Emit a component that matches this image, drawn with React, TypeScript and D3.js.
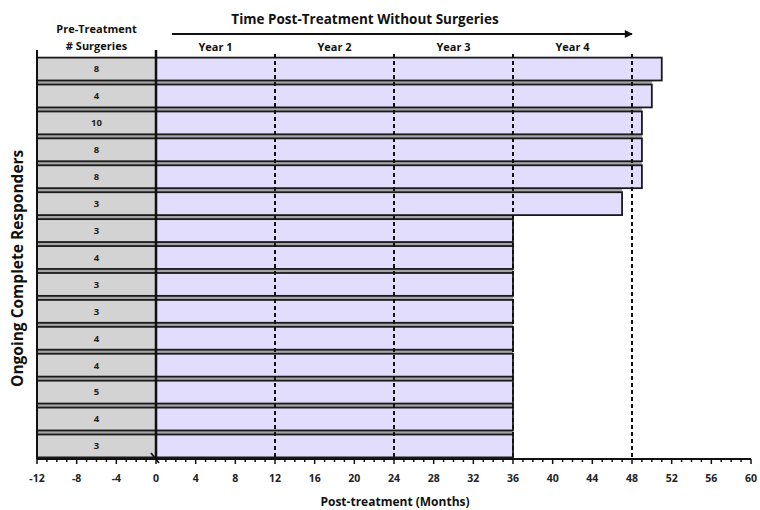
import React, { useEffect, useRef } from "react";
import * as d3 from "d3";

// pre-treatment surgeries per patient (top to bottom)
const surgeries = [8, 4, 10, 8, 8, 3, 3, 4, 3, 3, 4, 4, 5, 4, 3];
// months post-treatment without surgery
const months = [51, 50, 49, 49, 49, 47, 36, 36, 36, 36, 36, 36, 36, 36, 36];
const yearLines = [12, 24, 36, 48];
const yearLabels = ["Year 1", "Year 2", "Year 3", "Year 4"];
const xTicks = [-12, -8, -4, 0, 4, 8, 12, 16, 20, 24, 28, 32, 36, 40, 44, 48, 52, 56, 60];

const W = 760, H = 510;
const FONT = "'Open Sans', 'DejaVu Sans', sans-serif";

export default function App() {
  const ref = useRef<SVGSVGElement>(null);

  useEffect(() => {
    const svg = d3.select(ref.current);
    svg.selectAll("*").remove();

    const x = d3.scaleLinear().domain([-12, 60]).range([37, 751]);
    const y = d3
      .scaleBand<number>()
      .domain(d3.range(surgeries.length))
      .range([56, 459])
      .paddingInner(0.15)
      .paddingOuter(0.06);
    const axisY = 459;

    // gray stripes between neighbouring bars
    const gaps = svg.append("g");
    for (let i = 0; i < months.length - 1; i++) {
      const top = (y(i) as number) + y.bandwidth();
      const bot = y(i + 1) as number;
      gaps
        .append("rect")
        .attr("x", x(-12))
        .attr("y", top)
        .attr("width", x(Math.min(months[i], months[i + 1])) - x(-12))
        .attr("height", bot - top)
        .attr("fill", "#a5a5a5");
    }

    const rows = svg
      .append("g")
      .selectAll("g.row")
      .data(surgeries.map((s, i) => ({ s, m: months[i], i })))
      .enter()
      .append("g")
      .attr("class", "row");

    rows
      .append("rect")
      .attr("x", x(-12))
      .attr("y", (d) => y(d.i) as number)
      .attr("width", x(0) - x(-12))
      .attr("height", y.bandwidth())
      .attr("fill", "#d3d3d3")
      .attr("stroke", "#1a1a1a")
      .attr("stroke-width", 1.8);

    rows
      .append("rect")
      .attr("x", x(0))
      .attr("y", (d) => y(d.i) as number)
      .attr("width", (d) => x(d.m) - x(0))
      .attr("height", y.bandwidth())
      .attr("fill", "#e2ddfd")
      .attr("stroke", "#1a1a1a")
      .attr("stroke-width", 1.8);

    rows
      .append("text")
      .attr("x", x(-6))
      .attr("y", (d) => (y(d.i) as number) + y.bandwidth() / 2)
      .attr("dy", "0.35em")
      .attr("text-anchor", "middle")
      .attr("font-family", FONT)
      .attr("font-weight", "bold")
      .attr("font-size", 9.5)
      .attr("fill", "#222")
      .text((d) => d.s);

    // dashed year boundaries
    svg
      .append("g")
      .selectAll("line")
      .data(yearLines)
      .enter()
      .append("line")
      .attr("x1", (d) => x(d))
      .attr("x2", (d) => x(d))
      .attr("y1", 54)
      .attr("y2", axisY)
      .attr("stroke", "#111")
      .attr("stroke-width", 2)
      .attr("stroke-dasharray", "4,3");

    // vertical frame lines
    svg.append("line").attr("x1", x(-12)).attr("x2", x(-12)).attr("y1", 50).attr("y2", axisY)
      .attr("stroke", "#111").attr("stroke-width", 2);
    svg.append("line").attr("x1", x(0)).attr("x2", x(0)).attr("y1", 50).attr("y2", axisY)
      .attr("stroke", "#111").attr("stroke-width", 2.5);

    // x axis
    const axis = svg.append("g").attr("transform", `translate(0,${axisY})`);
    axis
      .append("line")
      .attr("x1", x(-12))
      .attr("x2", x(60))
      .attr("stroke", "#111")
      .attr("stroke-width", 2);
    axis
      .selectAll("line.minor")
      .data(d3.range(-12, 61, 1))
      .enter()
      .append("line")
      .attr("class", "minor")
      .attr("x1", (d) => x(d))
      .attr("x2", (d) => x(d))
      .attr("y1", 0)
      .attr("y2", (d) => (d % 4 === 0 ? 5 : 3))
      .attr("stroke", "#111")
      .attr("stroke-width", 1.5);
    axis
      .selectAll("text")
      .data(xTicks)
      .enter()
      .append("text")
      .attr("x", (d) => x(d))
      .attr("y", 23)
      .attr("text-anchor", "middle")
      .attr("font-family", FONT)
      .attr("font-weight", "bold")
      .attr("font-size", 10.5)
      .attr("fill", "#222")
      .text((d) => d);

    // axis break mark at 0
    svg.append("path")
      .attr("d", `M${x(0) - 5},${axisY - 6} L${x(0) + 3},${axisY + 4}`)
      .attr("stroke", "#111").attr("stroke-width", 1.8).attr("fill", "none");

    svg.append("text")
      .attr("x", 395).attr("y", 506)
      .attr("text-anchor", "middle")
      .attr("font-family", FONT).attr("font-weight", "bold").attr("font-size", 12)
      .attr("fill", "#111")
      .text("Post-treatment (Months)");

    // y label
    svg.append("text")
      .attr("transform", `translate(23,${(y(0) as number + axisY) / 2 + 10}) rotate(-90)`)
      .attr("text-anchor", "middle")
      .attr("font-family", FONT).attr("font-weight", "bold").attr("font-size", 15.5)
      .attr("fill", "#111")
      .text("Ongoing Complete Responders");

    // header
    const head = svg.append("g")
      .attr("font-family", FONT).attr("font-weight", "bold").attr("fill", "#111");
    head.append("text").attr("x", x(-6)).attr("y", 33).attr("text-anchor", "middle")
      .attr("font-size", 11).text("Pre-Treatment");
    head.append("text").attr("x", x(-6)).attr("y", 50).attr("text-anchor", "middle")
      .attr("font-size", 11).text("# Surgeries");
    head.append("text").attr("x", 365).attr("y", 24).attr("text-anchor", "middle")
      .attr("font-size", 13.5).text("Time Post-Treatment Without Surgeries");
    head.selectAll("text.year")
      .data(yearLabels)
      .enter()
      .append("text")
      .attr("class", "year")
      .attr("x", (d, i) => x(i * 12 + 6))
      .attr("y", 51)
      .attr("text-anchor", "middle")
      .attr("font-size", 11)
      .text((d) => d);

    svg.append("defs").append("marker")
      .attr("id", "arrow").attr("viewBox", "0 0 10 10").attr("refX", 9).attr("refY", 5)
      .attr("markerWidth", 5).attr("markerHeight", 4).attr("orient", "auto")
      .append("path").attr("d", "M0,0 L10,5 L0,10 z").attr("fill", "#111");
    svg.append("line")
      .attr("x1", 172).attr("x2", 632).attr("y1", 34).attr("y2", 34)
      .attr("stroke", "#111").attr("stroke-width", 2)
      .attr("marker-end", "url(#arrow)");
  }, []);

  return (
    <svg
      ref={ref}
      width={W}
      height={H}
      style={{ position: "absolute", left: 0, top: 0, background: "#fff" }}
    />
  );
}
